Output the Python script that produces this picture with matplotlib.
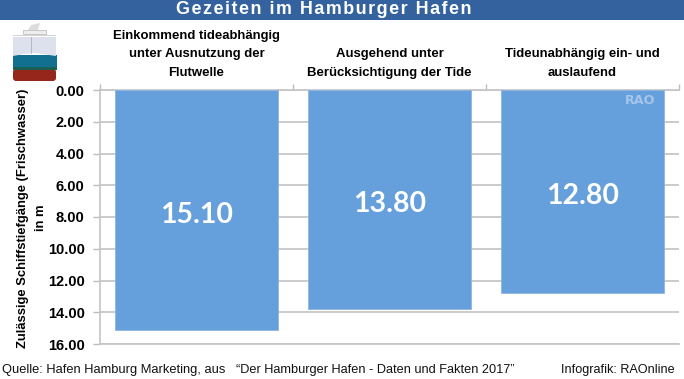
from matplotlib import pyplot as plt
from matplotlib.patches import Rectangle, FancyBboxPatch, Polygon

W = 684
H = 379

# Data
categories = ["Einkommend tideabhängig\nunter Ausnutzung der\nFlutwelle",
              "Ausgehend unter\nBerücksichtigung der Tide",
              "Tideunabhängig ein- und\nauslaufend"]
draft = [15.10, 13.80, 12.80]
y_ticks = [0, 2, 4, 6, 8, 10, 12, 14, 16]

plt.rcParams['font.family'] = ['Liberation Sans', 'DejaVu Sans']


def px_axes(fig, x0, y0, x1, y1):
    # axes from pixel box, y counted from the top
    return fig.add_axes([x0 / W, 1 - y1 / H, (x1 - x0) / W, (y1 - y0) / H])


if __name__ == '__main__':
    fig = plt.figure(figsize=(W / 100, H / 100), dpi=100)

    # Layer for header, footer and ship icon, in pixels
    bg = fig.add_axes([0, 0, 1, 1])
    bg.set_xlim(0, W)
    bg.set_ylim(H, 0)
    bg.axis('off')
    bg.add_patch(Rectangle((0, 0), W, 19.5, color='#33629f', lw=0))
    bg.text(324, 9, "\u200a".join("Gezeiten im Hamburger Hafen"), color='white', fontsize=12.9,
            fontweight='bold', ha='center', va='center')
    bg.text(2, 369.5, "Quelle: Hafen Hamburg Marketing, aus", fontsize=9.3, va='center', color='#111111')
    bg.text(236, 369.5, "“Der Hamburger Hafen - Daten und Fakten 2017”", fontsize=9.15, va='center', color='#111111')
    bg.text(561, 369.5, "Infografik: RAOnline", fontsize=9.05, va='center', color='#111111')

    # Ship icon
    bg.add_patch(FancyBboxPatch((13, 69), 43, 12, boxstyle='round,pad=0,rounding_size=3',
                                color='#96261c', lw=0))
    bg.add_patch(Rectangle((12.5, 55), 44, 13, color='#11708f', lw=0))
    bg.add_patch(Rectangle((12.5, 67), 44, 2.5, color='#1b5f52', lw=0))
    bg.add_patch(Polygon([(13, 37), (56, 37), (56, 56), (42, 54), (33, 53), (24, 54), (13, 56)],
                         color='#dde1ee', lw=0))
    bg.plot([31, 31], [37, 53], color='#a9b1c4', lw=0.6)
    bg.add_patch(Rectangle((13, 34.5), 43, 1.0, color='#d2d2d2', lw=0))
    bg.add_patch(Rectangle((23, 30), 23, 4, color='#eeeeee', ec='#b5b5b5', lw=0.5))
    bg.add_patch(Polygon([(28, 30), (31, 25), (40, 23), (38, 30)], color='#dcdcdc', lw=0))

    # Chart
    ax = px_axes(fig, 100, 90, 679, 344)
    ax.patch.set_alpha(0)
    positions = range(len(draft))
    ax.bar(positions, draft, width=0.84, color='#659fdc', edgecolor='#8fb6e0', linewidth=0.6, zorder=3)
    ax.set_xlim(-0.5, 2.5)
    ax.set_ylim(16, 0)
    ax.set_yticks(y_ticks)
    ax.set_yticklabels(["%.2f" % t for t in y_ticks], fontsize=10.5, fontweight='bold')
    ax.yaxis.grid(True, color='#bdbdbd', lw=1.1, zorder=0)
    ax.set_axisbelow(True)
    ax.set_xticks([-0.5, 0.5, 1.5, 2.5])
    ax.set_xticklabels([])
    ax.xaxis.tick_top()
    ax.tick_params(axis='x', length=4, color='#bdbdbd', width=1)
    ax.tick_params(axis='y', length=5, color='#bdbdbd', width=1, pad=6)
    ax.spines['right'].set_visible(False)
    for s in ['left', 'top', 'bottom']:
        ax.spines[s].set_color('#c4c4c4')
        ax.spines[s].set_linewidth(1.2)

    for i, v in enumerate(draft):
        ax.text(i, v / 2 + 0.3, "%.2f" % v, color='white', fontsize=20.5, fontweight='bold',
                family=['Lato', 'DejaVu Sans'], ha='center', va='center', zorder=4)
        ax.annotate(categories[i], xy=(i, 0), xytext=(0, 8), textcoords='offset points',
                    ha='center', va='bottom', fontsize=9.45, fontweight='bold', linespacing=1.74,
                    annotation_clip=False)
    ax.text(2.375, 0.67, "RAO", color='#a5c6ea', fontsize=9.2, fontweight='bold',
            family=['DejaVu Sans'], ha='right', va='center', zorder=4)

    bg.text(32, 218, "Zulässige Schiffstiefgänge (Frischwasser)\nin m", rotation=90, fontsize=9.35,
            fontweight='bold', ha='center', va='center', multialignment='center', linespacing=1.6)

    fig.savefig('out.png', dpi=100)
